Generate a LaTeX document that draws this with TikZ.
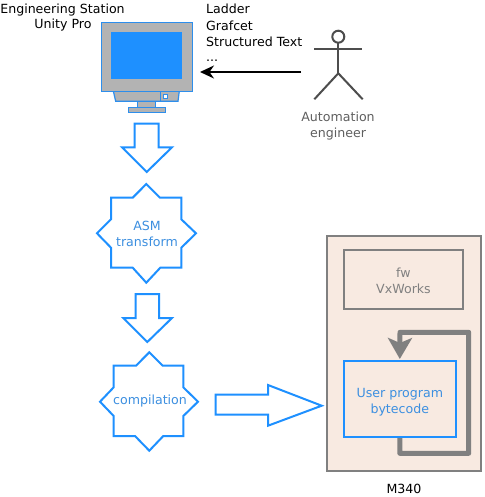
\documentclass[tikz,border=0pt]{standalone}
\usepackage{fontspec}
\setmainfont{DejaVu Sans}
\usetikzlibrary{arrows.meta,calc}
\definecolor{bl}{HTML}{1E90FF}
\definecolor{tbl}{HTML}{3C8FE0}
\definecolor{gr}{HTML}{808080}
\definecolor{peach}{HTML}{F8EAE1}
\definecolor{mon}{HTML}{B3B3B3}
\definecolor{act}{HTML}{4D4D4D}
\tikzset{
 x=1pt,y=-1pt,
 outline/.style={draw=bl,line width=2pt,fill=white,line join=miter},
 monpart/.style={draw=bl!85!gray,line width=1.2pt,fill=mon},
 lbl/.style={font=\fontsize{12.6pt}{16pt}\selectfont,inner sep=0pt,align=center},
 lblblue/.style={lbl,text=tbl},
 lblgray/.style={lbl,text=gr},
 lblact/.style={lbl,text=act!90!white},
 lblblack/.style={lbl,text=black},
 actorline/.style={draw=act,line width=2pt},
 boxgray/.style={draw=gr,line width=2pt,inner sep=0pt},
}
\begin{document}
\begin{tikzpicture}
\useasboundingbox (0,0) rectangle (484,497);
\fill[white] (0,0) rectangle (484,497);
% monitor
\draw[monpart] (113.3,91) -- (179.3,91) -- (178,101.3) -- (115.7,101.3) -- cycle;
\draw[monpart] (137.7,101.3) rectangle (155.7,107.3);
\draw[monpart] (128.3,107.3) rectangle (165.7,112.3);
\draw[draw=bl!85!gray,line width=1.2pt] (160.7,91) -- (160.7,101.3);
\draw[draw=bl!85!gray,line width=1.2pt,fill=white] (163.3,94.3) rectangle (167.3,98.7);
\draw[monpart] (101.3,22.7) rectangle (192.7,91.3);
\fill[bl] (111,32) rectangle (181.7,79);
% labels
\node[lblblack,anchor=base] (es) at (62.5,13.5) {Engineering Station};
\node[lblblack,anchor=base] (up) at (63,28.5) {Unity Pro};
\node[lblblack,anchor=base west] (l1) at (206,14) {Ladder};
\node[lblblack,anchor=base west] (l2) at (206,30.3) {Grafcet};
\node[lblblack,anchor=base west] (l3) at (206,46.3) {Structured Text};
\node[lblblack,anchor=base west] (l4) at (206,62) {...};
% actor
\draw[actorline] (338.3,36.7) circle (6);
\draw[actorline] (338.3,42.7) -- (338.3,73.3);
\draw[actorline] (314,48.7) -- (362,48.7);
\draw[actorline] (314.3,99.3) -- (338.3,73.3) -- (362.7,99.3);
\node[lblact] (ae) at (338,126.5) {Automation\\engineer};
\coordinate (from) at (301,72);
\coordinate (to) at (200,72);
\draw[line width=2pt,-{Stealth[length=14pt,width=13pt]}] (from) -- (to);
% block arrows
\draw[outline] (134.7,123.7) -- (158.7,123.7) -- (158.7,147.3) -- (172,147.3) -- (146.7,172) -- (122,147.3) -- (134.7,147.3) -- cycle;
\draw[outline] (135.7,294) -- (159,294) -- (159,318) -- (172,318) -- (147.3,342) -- (123.3,318) -- (135.7,318) -- cycle;
\draw[outline] (215.7,394.7) -- (268,394.7) -- (268,385) -- (321.7,405.7) -- (268,425.7) -- (268,414.7) -- (215.7,414.7) -- cycle;
% stars
\draw[outline] (146.3,184) -- (160,197.7) -- (181.3,197.7) -- (181.3,219.3) -- (196,233.3) -- (181.3,247.7) -- (181.3,267.7) -- (160.3,267.7) -- (146.3,282.7) -- (132.7,267.7) -- (111,267.7) -- (111,247.7) -- (97,233.3) -- (111,219.3) -- (111,197.7) -- (132.7,197.7) -- cycle;
\node[lblblue] (asm) at (147,234) {ASM\\transform};
\draw[outline] (149.3,352.3) -- (162.7,365.7) -- (183.3,365.7) -- (183.3,387.3) -- (198,401.7) -- (183.3,416) -- (183.3,436) -- (163.3,436) -- (149.3,450.7) -- (135,436) -- (113.7,436) -- (113.7,416) -- (100,401.7) -- (113.7,387.3) -- (113.7,365.7) -- (136,365.7) -- cycle;
\node[lblblue] (comp) at (150,401) {compilation};
% M340
\node[boxgray,fill=peach,minimum width=154pt,minimum height=235pt] (m340) at (404,353.5) {};
\node[boxgray,minimum width=119pt,minimum height=59pt] (fw) at (403.5,279.5) {};
\node[lblgray] (fwt) at (403.5,280.5) {fw\\VxWorks};
\node[draw=bl,line width=2pt,inner sep=0pt,minimum width=112.5pt,minimum height=76pt] (user) at (399.8,399) {};
\node[lblblue] (usert) at (399.8,402) {User program\\bytecode};
\node[lblblack] (m) at (404,489) {M340};
\draw[draw=gr,line width=5pt,line join=round,-{Stealth[length=21pt,width=24pt,inset=5pt]},shorten >=1pt]
  (user.south) -- ++(0,15.3) -| (468.7,332.3) -- (400,332.3) -- (user.north);
\end{tikzpicture}
\end{document}
